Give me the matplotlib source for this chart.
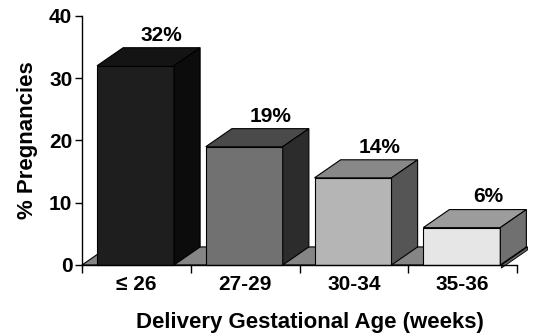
import matplotlib.pyplot as plt
from matplotlib.patches import Polygon

plt.rcParams['font.family'] = ['Liberation Sans', 'DejaVu Sans']
plt.rcParams['font.weight'] = 'bold'

categories = ['\u2264 26', '27-29', '30-34', '35-36']
values = [32, 19, 14, 6]
labels = ['32%', '19%', '14%', '6%']

front_colors = ['#1e1e1e', '#717171', '#b5b5b5', '#e6e6e6']
top_colors = ['#141414', '#4a4a4a', '#888888', '#9c9c9c']
side_colors = ['#0c0c0c', '#2c2c2c', '#555555', '#707070']

# 3d look: depth offset in data units, bar placement inside each category slot
DX, DY = 0.24, 2.9
OFFSET, WIDTH = 0.138, 0.708


def draw_box(ax, x0, w, h, front, top, side):
    kw = dict(edgecolor='black', linewidth=0.8, clip_on=False, joinstyle='miter')
    ax.add_patch(Polygon([(x0, 0), (x0 + w, 0), (x0 + w, h), (x0, h)], facecolor=front, **kw))
    ax.add_patch(Polygon([(x0, h), (x0 + w, h), (x0 + w + DX, h + DY), (x0 + DX, h + DY)],
                         facecolor=top, **kw))
    ax.add_patch(Polygon([(x0 + w, 0), (x0 + w + DX, DY), (x0 + w + DX, h + DY), (x0 + w, h)],
                         facecolor=side, **kw))


fig = plt.figure(figsize=(5.34, 3.35), dpi=100)
ax = fig.add_axes([0.1536, 0.209, 0.8146, 0.7433])

# floor slab
floor_end = 3 + OFFSET + WIDTH + 0.01
ax.add_patch(Polygon([(0, 0), (floor_end, 0), (floor_end + DX, DY), (DX, DY)],
                     facecolor='#858585', edgecolor='black', linewidth=0.8, clip_on=False))
ax.add_patch(Polygon([(floor_end, 0), (floor_end + DX, DY), (floor_end + DX, DY - 0.5),
                      (floor_end, -0.5)],
                     facecolor='#606060', edgecolor='black', linewidth=0.6, clip_on=False))

for i, v in enumerate(values):
    x0 = i + OFFSET
    draw_box(ax, x0, WIDTH, v, front_colors[i], top_colors[i], side_colors[i])
    ax.text(x0 + WIDTH / 2 + DX, v + DY + 0.5, labels[i], ha='center', va='bottom',
            fontsize=15, fontweight='bold')

ax.set_xlim(0, 4)
ax.set_ylim(0, 40)
ax.set_yticks([0, 10, 20, 30, 40])
ax.set_xticks([0, 1, 2, 3, 4])
ax.set_xticklabels([])
ax.set_xticks([0.5, 1.5, 2.5, 3.5], minor=True)
ax.set_xticklabels(categories, minor=True)
ax.tick_params(axis='x', which='minor', length=0, pad=7, labelsize=15)
ax.tick_params(axis='x', which='major', length=6, width=1, direction='out')
ax.tick_params(axis='y', length=5, width=1, labelsize=15, pad=2)
for s in ['top', 'right']:
    ax.spines[s].set_visible(False)
ax.spines['left'].set_linewidth(1)
ax.spines['bottom'].set_linewidth(1)

ax.set_xlabel('Delivery Gestational Age (weeks)', fontsize=16, fontweight='bold')
ax.xaxis.set_label_coords(0.525, -0.19)
ax.set_ylabel('% Pregnancies', fontsize=16, fontweight='bold', labelpad=8)

fig.savefig('out.png', dpi=100)
